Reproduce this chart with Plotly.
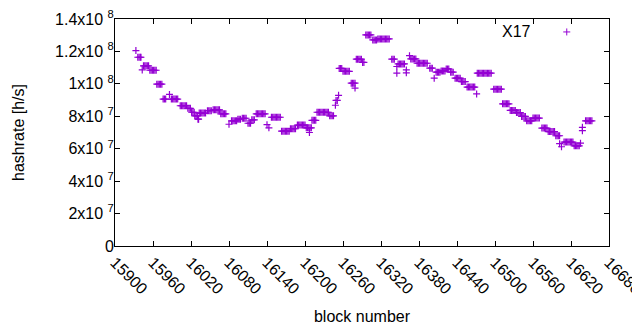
import plotly.graph_objects as go

# block numbers (x) and hashrate in units of 1e6 h/s (y)
block = [
    15933,
    15936, 15938, 15940, 15941,
    15943,
    15945, 15947, 15949, 15951, 15953,
    15955, 15957, 15959, 15961, 15963, 15965,
    15966, 15968, 15970, 15972, 15974,
    15976, 15978, 15980,
    15986,
    15989, 15991, 15993, 15995, 15997, 15999,
    16003, 16005, 16007, 16009, 16011, 16013,
    16015, 16017, 16019,
    16021, 16023, 16025,
    16026, 16028, 16030,
    16031, 16032,
    16033, 16035, 16037, 16039, 16041, 16043,
    16046, 16048, 16050, 16052,
    16055, 16057, 16059, 16061, 16063, 16065,
    16067, 16069, 16071, 16073, 16075,
    16080,
    16084, 16086, 16088, 16090, 16092,
    16094, 16096, 16098,
    16101, 16103, 16105, 16107,
    16110, 16112, 16114,
    16116, 16118, 16120,
    16123, 16125, 16127, 16129, 16131, 16133, 16135, 16137,
    16140, 16143,
    16147, 16149, 16151, 16153, 16155, 16157, 16159, 16161,
    16163, 16165, 16167, 16169, 16171, 16173, 16175,
    16177, 16179, 16181, 16183, 16185,
    16188, 16190, 16192, 16194, 16196, 16198, 16200,
    16202, 16204, 16206, 16208, 16210,
    16207,
    16211, 16213, 16215, 16217,
    16219, 16221, 16223, 16225, 16227, 16229, 16231, 16233, 16235, 16237,
    16239, 16241, 16243, 16245,
    16248,
    16249, 16251,
    16253,
    16254, 16256, 16258,
    16260, 16262, 16264, 16266, 16268, 16270,
    16273, 16275, 16277, 16279,
    16279,
    16281, 16283, 16285, 16287, 16289,
    16291, 16293,
    16296, 16298, 16300, 16302, 16304,
    16307, 16309, 16311, 16313,
    16315, 16317, 16319, 16321, 16323, 16325, 16327, 16329, 16331, 16333,
    16337, 16339, 16341,
    16345, 16345,
    16347, 16349, 16351, 16353, 16355, 16357,
    16360, 16360,
    16365,
    16367, 16369, 16371, 16373, 16375,
    16377, 16379, 16381, 16383, 16385, 16387, 16389, 16391, 16393,
    16397, 16399, 16401,
    16404,
    16407, 16409, 16411, 16413,
    16415, 16417, 16419, 16421,
    16423, 16425, 16427,
    16430, 16432, 16434,
    16437, 16439, 16441, 16443, 16445,
    16447, 16449, 16451, 16453,
    16456, 16458, 16460, 16462, 16464, 16466, 16468,
    16471,
    16472, 16474, 16476, 16478, 16480, 16482, 16484, 16486, 16488, 16490, 16492, 16494,
    16498, 16500, 16502, 16504, 16506, 16508, 16510,
    16512, 16514, 16516, 16518, 16520, 16522,
    16524, 16526, 16528, 16530, 16532,
    16534, 16536, 16538, 16540,
    16542, 16544, 16546, 16548,
    16550, 16552, 16554, 16556, 16558,
    16560, 16562, 16564, 16566, 16568, 16570,
    16574, 16576, 16578, 16580, 16582,
    16584, 16586, 16588, 16590, 16592, 16594,
    16596, 16598, 16600, 16602,
    16602, 16605,
    16609, 16611, 16613, 16615, 16617, 16619, 16621, 16623,
    16625, 16627, 16629, 16631, 16633,
    16635,
    16638, 16638,
    16643, 16645, 16647, 16649, 16651, 16653,
]

hashrate_mhs = [
    120.5,
    116.4, 116.4, 116.4, 116.4,
    108.6,
    111.1, 111.1, 111.1, 111.1, 111.1,
    108.4, 108.4, 108.4, 108.4, 108.4, 108.4,
    99.8, 99.8, 99.8, 99.8, 99.8,
    90.6, 90.6, 90.6,
    93.5,
    90.6, 90.6, 90.6, 90.6, 90.6, 90.6,
    86.5, 86.5, 86.5, 86.5, 86.5, 86.5,
    84.9, 84.9, 84.9,
    82.5, 82.5, 82.5,
    80.3, 80.3, 80.3,
    78.2, 78.2,
    82.0, 82.0, 82.0, 82.0, 82.0, 82.0,
    83.4, 83.4, 83.4, 83.4,
    84.0, 84.0, 84.0, 84.0, 84.0, 84.0,
    81.5, 81.5, 81.5, 81.5, 81.5,
    75.1,
    77.2, 77.2, 77.2, 77.2, 77.2,
    78.2, 78.2, 78.2,
    78.8, 78.8, 78.8, 78.8,
    75.7, 75.7, 75.7,
    77.8, 77.8, 77.8,
    81.5, 81.5, 81.5, 81.5, 81.5, 81.5, 81.5, 81.5,
    74.8, 72.9,
    79.4, 79.4, 79.4, 79.4, 79.4, 79.4, 79.4, 79.4,
    70.8, 70.8, 70.8, 70.8, 70.8, 70.8, 70.8,
    72.3, 72.3, 72.3, 72.3, 72.3,
    74.6, 74.6, 74.6, 74.6, 74.6, 74.6, 74.6,
    72.9, 72.9, 72.9, 72.9, 72.9,
    70.0,
    77.5, 77.5, 77.5, 77.5,
    82.5, 82.5, 82.5, 82.5, 82.5, 82.5, 82.5, 82.5, 82.5, 82.5,
    80.3, 80.3, 80.3, 80.3,
    86.8,
    89.8, 89.8,
    92.9,
    109.5, 109.5, 109.5,
    107.7, 107.7, 107.7, 107.7, 107.7, 107.7,
    100.4, 100.4, 100.4, 100.4,
    97.4,
    115.2, 115.2, 115.2, 115.2, 115.2,
    113.2, 113.2,
    130.2, 130.2, 130.2, 130.2, 130.2,
    127.1, 127.1, 127.1, 127.1,
    127.7, 127.7, 127.7, 127.7, 127.7, 127.7, 127.7, 127.7, 127.7, 127.7,
    115.2, 115.2, 115.2,
    110.7, 106.6,
    112.3, 112.3, 112.3, 112.3, 112.3, 112.3,
    108.6, 106.8,
    117.4,
    115.4, 115.4, 115.4, 115.4, 115.4,
    112.7, 112.7, 112.7, 112.7, 112.7, 112.7, 112.7, 112.7, 112.7,
    109.7, 109.7, 109.7,
    103.5,
    107.2, 107.2, 107.2, 107.2,
    108.0, 108.0, 108.0, 108.0,
    109.2, 109.2, 109.2,
    107.2, 107.2, 107.2,
    103.5, 103.5, 103.5, 103.5, 103.5,
    101.4, 101.4, 101.4, 101.4,
    98.0, 98.0, 98.0, 98.0, 98.0, 98.0, 98.0,
    93.8,
    106.6, 106.6, 106.6, 106.6, 106.6, 106.6, 106.6, 106.6, 106.6, 106.6, 106.6, 106.6,
    96.7, 96.7, 96.7, 96.7, 96.7, 96.7, 96.7,
    87.7, 87.7, 87.7, 87.7, 87.7, 87.7,
    83.6, 83.6, 83.6, 83.6, 83.6,
    82.3, 82.3, 82.3, 82.3,
    79.9, 79.9, 79.9, 79.9,
    77.2, 77.2, 77.2, 77.2, 77.2,
    78.9, 78.9, 78.9, 78.9, 78.9, 78.9,
    72.7, 72.7, 72.7, 72.7, 72.7,
    70.6, 70.6, 70.6, 70.6, 70.6, 70.6,
    68.0, 68.0, 68.0, 68.0,
    63.1, 61.2,
    64.1, 64.1, 64.1, 64.1, 64.1, 64.1, 64.1, 64.1,
    61.8, 61.8, 61.8, 61.8, 61.8,
    63.4,
    73.2, 71.1,
    77.2, 77.2, 77.2, 77.2, 77.2, 77.2,
]

assert len(block) == len(hashrate_mhs), (len(block), len(hashrate_mhs))

x_ticks = [15900, 15960, 16020, 16080, 16140, 16200, 16260, 16320,
           16380, 16440, 16500, 16560, 16620, 16680]
y_ticks = [0, 20, 40, 60, 80, 100, 120, 140]
y_tick_text = ["0", "2x10 <sup>7</sup>", "4x10 <sup>7</sup>", "6x10 <sup>7</sup>",
               "8x10 <sup>7</sup>", "1x10 <sup>8</sup>", "1.2x10 <sup>8</sup>",
               "1.4x10 <sup>8</sup>"]
series_name = "X17"

PURPLE = "#9400D3"
FONT = "Liberation Sans, Arial, sans-serif"
FS = 16

fig = go.Figure()
fig.add_trace(go.Scatter(
    x=block, y=hashrate_mhs, mode="markers", name=series_name,
    showlegend=False,
    marker=dict(symbol="cross-thin-open", size=5, color=PURPLE,
                line=dict(width=1.2, color=PURPLE)),
))

# legend key drawn as in gnuplot: text, then the point symbol to its right
fig.add_annotation(x=0.846, y=0.947, xref="paper", yref="paper",
                   text=series_name, showarrow=False, xanchor="right",
                   yanchor="middle", font=dict(family=FONT, size=FS, color="black"))
kx, ky = 0.9145, 0.943
dx, dy = 3.5 / 494.0, 3.5 / 227.0
fig.add_shape(type="line", xref="paper", yref="paper", x0=kx - dx, x1=kx + dx,
              y0=ky, y1=ky, line=dict(color=PURPLE, width=1))
fig.add_shape(type="line", xref="paper", yref="paper", x0=kx, x1=kx,
              y0=ky - dy, y1=ky + dy, line=dict(color=PURPLE, width=1))

axis_common = dict(showline=True, linecolor="black", linewidth=1, mirror="allticks",
                   ticks="inside", ticklen=5, tickwidth=1, tickcolor="black",
                   showgrid=False, zeroline=False, ticklabeloverflow="allow",
                   tickfont=dict(family=FONT, size=FS, color="black"))

fig.update_xaxes(range=[15900, 16680], tickvals=x_ticks,
                 ticktext=[str(t) for t in x_ticks], tickangle=45,
                 title=dict(text="block number", standoff=14,
                            font=dict(family=FONT, size=FS, color="black")),
                 **axis_common)
fig.update_yaxes(range=[0, 140], tickvals=y_ticks, ticktext=y_tick_text,
                 ticklabelstandoff=-3,
                 title=dict(text="hashrate [h/s]", standoff=26,
                            font=dict(family=FONT, size=FS, color="black")),
                 **axis_common)

# the page body has an 8px default margin, so the figure is 8px smaller
fig.update_layout(width=632, height=322,
                  margin=dict(l=107, r=31, t=11, b=84, autoexpand=False),
                  plot_bgcolor="white", paper_bgcolor="white",
                  font=dict(family=FONT, size=FS, color="black"))

fig.write_html("out.html")
